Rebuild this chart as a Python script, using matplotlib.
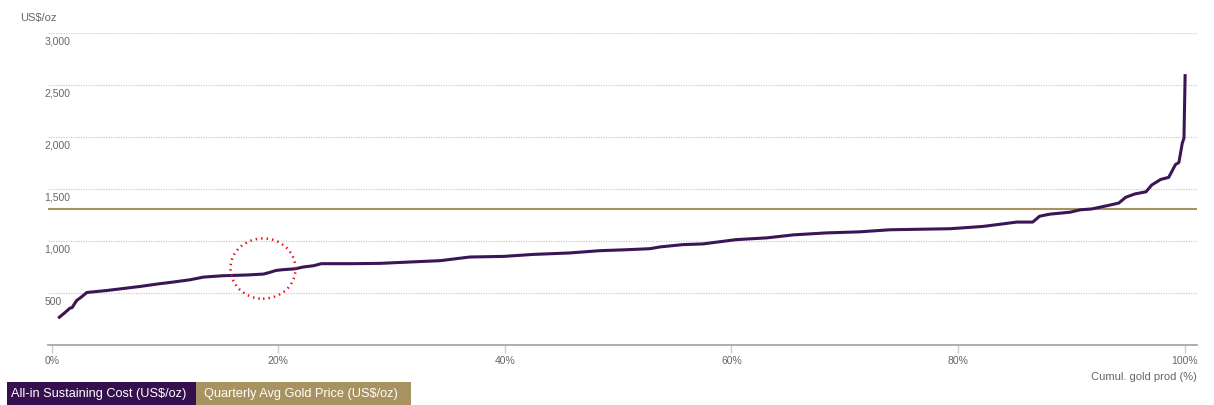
import matplotlib
matplotlib.use("Agg")
import matplotlib.pyplot as plt
from matplotlib.patches import Ellipse, Rectangle
from matplotlib.transforms import ScaledTranslation

plt.rcParams['font.family'] = ['Liberation Sans', 'DejaVu Sans']

# Cumulative gold production (%) and all-in sustaining cost (US$/oz)
cum_prod = [0.67, 1.17, 1.6, 1.8, 2.2, 2.6, 3.1, 4.85, 6.3, 7.8, 9.3, 10.7, 12.2, 13.4,
            15.1, 17.2, 18.7, 19.3, 19.8, 20.4, 21.5, 22.2, 23.1, 23.8, 26.6, 29.0, 31.6,
            34.3, 36.9, 39.9, 42.5, 45.7, 48.4, 50.5, 52.8, 53.7, 55.7, 57.5, 60.4, 63.1,
            65.5, 68.4, 71.3, 74.0, 79.3, 82.2, 85.2, 86.6, 87.2, 88.1, 89.9, 90.8, 91.8,
            93.1, 94.2, 94.8, 95.6, 96.6, 97.1, 97.9, 98.6, 99.2, 99.5, 99.8, 99.95, 100.05]
aisc = [267, 312, 354, 360, 428, 460, 505, 524, 543, 563, 586, 605, 627, 653,
        666, 673, 682, 700, 717, 724, 733, 750, 762, 782, 782, 785, 798,
        811, 846, 852, 871, 885, 907, 915, 926, 943, 965, 972, 1013, 1030,
        1059, 1078, 1088, 1108, 1118, 1140, 1182, 1182, 1238, 1258, 1277, 1300, 1308,
        1338, 1365, 1420, 1452, 1473, 1538, 1592, 1612, 1735, 1755, 1940, 1990, 2590]
gold_price = 1305

y_ticks = [500, 1000, 1500, 2000, 2500, 3000]
y_tick_labels = ['500', '1,000', '1,500', '2,000', '2,500', '3,000']
x_ticks = [0, 20, 40, 60, 80, 100]
x_tick_labels = ['0%', '20%', '40%', '60%', '80%', '100%']

highlight_center = (18.65, 735)
highlight_size = (5.75, 580)

W, H = 1214, 405
fig = plt.figure(figsize=(W / 100, H / 100), dpi=100)
ax = fig.add_axes([48 / W, 60 / H, (1197 - 48) / W, (345 - 33) / H])

purple = '#3b1656'
tan = '#a8925f'

ax.plot(cum_prod, aisc, color=purple, lw=2.2, solid_joinstyle='round', zorder=3)
ax.axhline(gold_price, color=tan, lw=1.5, zorder=2)

ax.add_patch(Ellipse(highlight_center, highlight_size[0], highlight_size[1], fill=False,
                     edgecolor='#e8141c', lw=1.8, linestyle=(0, (0.6, 1.6)), zorder=4))

ax.set_xlim(-0.33, 101.1)
ax.set_ylim(0, 3000)

ax.set_yticks(y_ticks)
ax.set_yticklabels(y_tick_labels)
ax.set_xticks(x_ticks)
ax.set_xticklabels(x_tick_labels)

for s in ['top', 'right', 'left']:
    ax.spines[s].set_visible(False)
ax.spines['bottom'].set_color('#a0a0a0')
ax.spines['bottom'].set_linewidth(1.2)

ax.grid(axis='y', color='#cccccc', linestyle=(0, (1, 1)), lw=0.9)
ax.set_axisbelow(True)

ax.tick_params(axis='y', length=0, labelsize=7.5, labelcolor='#666666', pad=-1)
for lab in ax.get_yticklabels():
    lab.set_horizontalalignment('left')
    lab.set_transform(lab.get_transform() + ScaledTranslation(-5 / 100, -8 / 100, fig.dpi_scale_trans))

ax.tick_params(axis='x', length=6, width=1, color='#c4d0de', labelsize=7.5,
               labelcolor='#666666', pad=2)

fig.text(20 / W, 1 - 18 / H, 'US$/oz', fontsize=8, color='#666666', ha='left', va='center')
fig.text(1197 / W, 1 - 377 / H, 'Cumul. gold prod (%)', fontsize=8, color='#666666',
         ha='right', va='center')

# Legend boxes
fig.patches.append(Rectangle((7 / W, 0), (196 - 7) / W, 23 / H, transform=fig.transFigure,
                             facecolor='#36104e', edgecolor='none'))
fig.patches.append(Rectangle((196 / W, 0), (411 - 196) / W, 23 / H, transform=fig.transFigure,
                             facecolor=tan, edgecolor='none'))
fig.text(11 / W, 11 / H, 'All-in Sustaining Cost (US$/oz)', fontsize=9.2, color='white',
         ha='left', va='center')
fig.text(204 / W, 11 / H, 'Quarterly Avg Gold Price (US$/oz)', fontsize=9.2, color='white',
         ha='left', va='center')

fig.savefig('out.png', dpi=100)
